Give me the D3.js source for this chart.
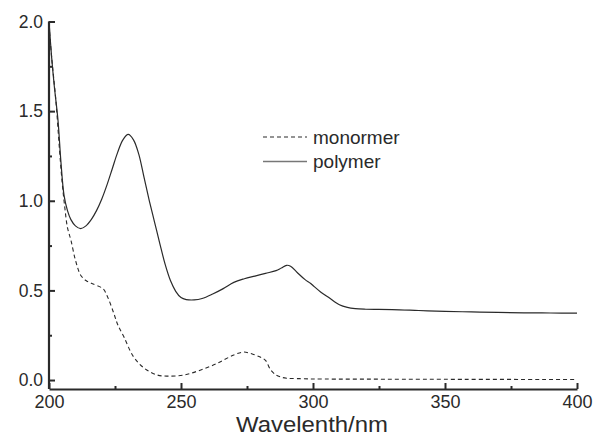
<!DOCTYPE html>
<html>
<head>
<meta charset="utf-8">
<script src="https://cdn.jsdelivr.net/npm/d3@7"></script>
<style>
  html, body { margin: 0; padding: 0; background: #fff; }
  svg { display: block; font-family: "Liberation Sans", Arial, sans-serif; }
</style>
</head>
<body>
<svg id="chart" width="595" height="437"></svg>
<script>
// wavelengths (nm) and absorbance
var polyX = [200, 201, 202, 203.4, 204.5, 205.7, 207, 208.3, 210, 212, 214, 216, 218, 220, 222, 224, 226, 228, 230,
  232, 234, 236, 238, 240, 242, 244, 246, 248, 250, 252, 255, 258, 262, 266, 270, 274, 278, 282, 286, 288, 290,
  291.5, 294, 297, 299, 300, 303, 306, 310, 313, 316, 320, 330, 340, 350, 360, 370, 380, 390, 400];
var polyY = [2.0, 1.8, 1.64, 1.45, 1.22, 1.03, 0.945, 0.895, 0.86, 0.845, 0.86, 0.895, 0.945, 1.01, 1.09, 1.18, 1.27, 1.34, 1.37,
  1.34, 1.26, 1.13, 1.0, 0.88, 0.76, 0.645, 0.555, 0.495, 0.46, 0.449, 0.447, 0.455, 0.48, 0.51, 0.545, 0.565, 0.58, 0.595, 0.61, 0.625, 0.64,
  0.635, 0.6, 0.56, 0.54, 0.527, 0.49, 0.46, 0.42, 0.405, 0.398, 0.395, 0.393, 0.388, 0.383, 0.38, 0.377, 0.375, 0.374, 0.373];

var monoX = [200, 201, 202.6, 204, 205, 206, 207, 208.3, 210, 212, 214, 216, 220.4, 222, 224.6, 226, 228.4, 232, 236,
  241, 245, 251, 257.5, 264, 270, 273.8, 277, 280, 282, 284, 286, 287.7, 290, 294, 300, 320, 350, 400];
var monoY = [1.98, 1.8, 1.56, 1.28, 1.1, 0.96, 0.85, 0.78, 0.67, 0.585, 0.555, 0.54, 0.51, 0.47, 0.37, 0.31, 0.24, 0.13, 0.067,
  0.028, 0.022, 0.028, 0.056, 0.095, 0.14, 0.156, 0.145, 0.128, 0.11, 0.056, 0.028, 0.017, 0.01, 0.008, 0.006, 0.005, 0.004, 0.003];

var xMajor = [200, 250, 300, 350, 400];
var xMinor = [225, 275, 325, 375];
var yMajor = [0, 0.5, 1.0, 1.5, 2.0];
var yMinor = [0.25, 0.75, 1.25, 1.75];

var legendNames = ['monormer', 'polymer'];

var svg = d3.select('#chart'),
    ink = '#2a2a2a';

var x = d3.scaleLinear().domain([200, 400]).range([49, 577]);
var y = d3.scaleLinear().domain([-0.05, 2.0]).range([389, 21.5]);

var polymer = polyX.map(function (d, i) { return [d, polyY[i]]; });
var monomer = monoX.map(function (d, i) { return [d, monoY[i]]; });

var line = d3.line()
  .x(function (d) { return x(d[0]); })
  .y(function (d) { return y(d[1]); })
  .curve(d3.curveCatmullRom.alpha(0.5));

svg.append('path')
  .datum(monomer)
  .attr('d', line)
  .attr('fill', 'none')
  .attr('stroke', ink)
  .attr('stroke-width', 1.1)
  .attr('stroke-dasharray', '4,3');

svg.append('path')
  .datum(polymer)
  .attr('d', line)
  .attr('fill', 'none')
  .attr('stroke', ink)
  .attr('stroke-width', 1.2);

// axes, ticks point inward
var xAxis = svg.append('g')
  .attr('transform', 'translate(0,389)')
  .call(d3.axisBottom(x).tickValues(xMajor).tickSize(-6).tickSizeOuter(0).tickPadding(6.5)
    .tickFormat(d3.format('d')));

svg.append('g')
  .attr('transform', 'translate(0,389)')
  .call(d3.axisBottom(x).tickValues(xMinor).tickSize(-3).tickSizeOuter(0).tickFormat(''))
  .select('.domain').remove();

var yAxis = svg.append('g')
  .attr('transform', 'translate(49,0)')
  .call(d3.axisLeft(y).tickValues(yMajor).tickSize(-6).tickSizeOuter(0).tickPadding(6)
    .tickFormat(d3.format('.1f')));

svg.append('g')
  .attr('transform', 'translate(49,0)')
  .call(d3.axisLeft(y).tickValues(yMinor).tickSize(-3).tickSizeOuter(0).tickFormat(''))
  .select('.domain').remove();

// y axis line runs from the top tick down to the x axis
yAxis.select('.domain').attr('d', 'M0,' + y(2.0) + 'V389');

svg.selectAll('.domain').attr('stroke', ink).attr('stroke-width', 2.2);
svg.selectAll('.tick line').attr('stroke', ink).attr('stroke-width', 2);
xAxis.selectAll('text').attr('font-size', 18).attr('fill', ink).attr('font-family', null);
yAxis.selectAll('text').attr('font-size', 17.5).attr('fill', ink).attr('font-family', null);

svg.append('text')
  .attr('x', 312)
  .attr('y', 432)
  .attr('text-anchor', 'middle')
  .attr('font-size', 22)
  .attr('textLength', 152)
  .attr('lengthAdjust', 'spacingAndGlyphs')
  .attr('fill', ink)
  .text('Wavelenth/nm');

// legend
var legend = svg.append('g').attr('transform', 'translate(263,137)');
legendNames.forEach(function (name, i) {
  var g = legend.append('g').attr('transform', 'translate(0,' + (i * 24.5) + ')');
  g.append('line')
    .attr('x1', 0).attr('x2', 44)
    .attr('stroke', i === 0 ? ink : '#777')
    .attr('stroke-width', i === 0 ? 1.1 : 1.6)
    .attr('stroke-dasharray', i === 0 ? '4,3' : null);
  g.append('text')
    .attr('x', 50)
    .attr('dy', '0.35em')
    .attr('font-size', 19)
    .attr('fill', ink)
    .text(name);
});
</script>
</body>
</html>
